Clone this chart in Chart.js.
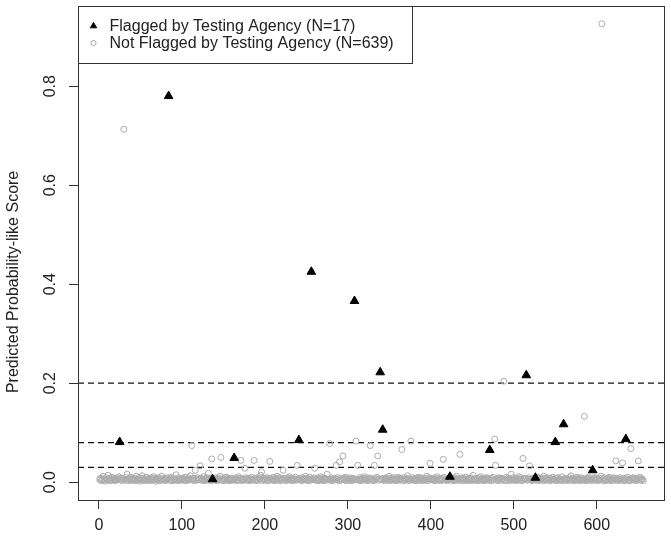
<!DOCTYPE html>
<html><head><meta charset="utf-8">
<script src="https://cdn.jsdelivr.net/npm/chart.js@4.4.1/dist/chart.umd.min.js"></script>
<style>html,body{margin:0;padding:0;background:#fff}</style>
</head><body>
<canvas id="c" width="671" height="540"></canvas>
<script>
// ---- data ----
const flaggedIndex = [25, 84, 137, 163, 241, 256, 308, 339, 342, 423, 471, 515, 526, 550, 560, 595, 635];
const flaggedScore = [0.081, 0.78, 0.006, 0.049, 0.085, 0.425, 0.366, 0.222, 0.106, 0.011, 0.065, 0.216, 0.009, 0.081, 0.117, 0.024, 0.087];

// not-flagged scores in thousandths, one entry per case index 1..656 (null = flagged case)
const notFlaggedMilli = [
  5,8,3,6,12,4,7,2,9,5,14,6,3,8,4,10,5,7,3,6,
  4,9,6,11,null,5,8,3,7,713,6,4,9,16,5,3,7,10,4,6,
  8,5,3,7,12,4,6,9,2,5,8,13,4,7,3,6,10,5,4,8,
  3,6,9,4,7,11,5,2,8,6,4,9,3,7,5,12,6,4,8,3,
  7,5,9,null,4,6,10,3,8,5,7,4,15,6,3,9,5,7,4,6,
  8,4,6,10,3,7,5,9,4,13,6,74,5,8,3,24,7,4,9,6,
  5,33,8,4,6,11,3,7,5,9,4,18,6,8,3,47,null,5,7,4,
  9,6,3,8,5,12,50,4,7,6,3,9,5,10,4,7,6,3,8,5,
  7,4,null,6,9,3,5,11,4,8,44,6,3,7,5,28,9,4,6,8,
  3,7,5,10,4,6,44,8,3,5,9,4,7,6,14,21,3,8,5,7,
  4,9,6,3,8,42,5,7,4,10,6,3,8,5,12,4,7,9,3,6,
  5,24,8,4,7,3,9,6,5,11,4,8,6,3,7,5,10,4,34,6,
  null,8,5,3,9,6,4,7,12,5,8,3,6,10,4,null,7,5,9,28,
  4,6,8,3,7,5,11,4,9,6,3,8,5,7,16,4,6,78,5,9,
  3,7,4,8,6,34,5,9,3,41,7,4,6,53,8,5,10,3,7,4,
  6,9,5,3,8,4,7,null,6,83,5,34,4,9,6,3,8,5,11,7,
  4,6,9,3,5,8,74,7,4,6,3,34,8,5,10,53,4,7,null,6,
  5,null,8,3,6,9,4,7,5,12,3,8,6,4,9,5,7,3,6,10,
  4,8,5,7,66,3,9,6,4,8,5,13,7,3,6,83,5,9,4,7,
  6,3,8,5,10,4,7,9,3,6,5,8,4,7,12,3,6,9,38,5,
  7,4,8,6,3,9,5,11,4,7,6,3,8,5,46,10,4,7,6,3,
  8,5,null,7,4,9,6,3,8,5,12,4,7,6,56,3,9,5,8,4,
  6,10,3,7,5,8,4,9,6,3,14,5,7,4,8,6,3,9,5,11,
  4,7,6,3,8,5,9,4,7,6,null,3,8,5,10,4,87,34,6,7,
  3,9,5,8,4,6,7,204,3,5,10,4,8,6,3,7,16,5,9,4,
  6,8,3,7,5,11,4,9,6,3,48,7,5,8,null,4,6,9,33,5,
  7,3,8,5,6,null,4,10,7,3,9,5,6,8,4,12,3,7,5,9,
  6,4,8,3,7,5,10,6,4,null,8,3,9,5,7,4,6,11,3,null,
  5,8,4,7,6,3,9,5,13,4,8,6,3,7,5,10,4,8,6,3,
  9,5,7,4,133,6,3,8,5,10,4,7,6,3,null,8,5,9,4,7,
  6,3,8,5,12,926,4,7,9,3,6,5,8,4,10,7,3,6,5,9,
  4,8,43,6,3,7,5,9,4,6,39,8,3,5,null,7,10,4,6,3,
  68,8,5,9,4,7,6,3,8,43,5,10,4,7,6,3
];

const thresholds = [0.2, 0.08, 0.03];
const xTicks = [0, 100, 200, 300, 400, 500, 600];
const yTicks = [0.0, 0.2, 0.4, 0.6, 0.8];
const seriesLabels = ['Flagged by Testing Agency (N=17)', 'Not Flagged by Testing Agency (N=639)'];
const yTitle = 'Predicted Probability-like Score';

// ---- chart ----
const X_MIN = -25.2, X_MAX = 682.2, Y_MIN = -0.036, Y_MAX = 0.962;
const FONT = '"Liberation Sans", Arial, sans-serif';
const FS = 16;
const TXT = '#222';

const flaggedPts = flaggedIndex.map((x, i) => ({x, y: flaggedScore[i]}));
const notFlaggedPts = [];
notFlaggedMilli.forEach((v, i) => { if (v !== null) notFlaggedPts.push({x: i + 1, y: v / 1000}); });

const lineSets = thresholds.map(t => ({
  label: 'threshold ' + t,
  data: [{x: X_MIN, y: t}, {x: X_MAX, y: t}],
  showLine: true, pointRadius: 0, borderColor: '#111', borderWidth: 1.2,
  borderDash: [6, 4], backgroundColor: 'transparent'
}));

const framePlugin = {
  id: 'frame',
  afterDraw(chart) {
    const {ctx, chartArea: a} = chart;
    ctx.save();
    ctx.strokeStyle = '#333'; ctx.lineWidth = 1;
    ctx.strokeRect(Math.round(a.left) + 0.5, Math.round(a.top) + 0.5, Math.round(a.right - a.left) - 1, Math.round(a.bottom - a.top));
    ctx.restore();
  }
};

const legendPlugin = {
  id: 'boxLegend',
  afterDraw(chart) {
    const {ctx, chartArea: a} = chart;
    const ds = chart.data.datasets;
    ctx.save();
    const x0 = Math.round(a.left) + 0.5, y0 = Math.round(a.top) + 0.5, w = 334, h = 57;
    ctx.fillStyle = '#fff'; ctx.fillRect(x0, y0, w, h);
    ctx.strokeStyle = '#333'; ctx.lineWidth = 1; ctx.strokeRect(x0, y0, w, h);
    ctx.font = FS + 'px ' + FONT; ctx.textBaseline = 'middle'; ctx.textAlign = 'left';
    const rows = [y0 + 19.5, y0 + 36.5];
    [0, 1].forEach(k => {
      const d = ds[k];
      ctx.fillStyle = d.backgroundColor;
      ctx.strokeStyle = d.borderColor;
      ctx.lineWidth = 1;
      Chart.helpers.drawPoint(ctx, {pointStyle: d.pointStyle, radius: k === 0 ? 3.6 : 2.6, borderWidth: 1}, x0 + 15, rows[k]);
      ctx.fillStyle = TXT;
      ctx.fillText(d.label, x0 + 31, rows[k] + 1);
    });
    ctx.restore();
  }
};

new Chart(document.getElementById('c'), {
  type: 'scatter',
  data: {
    datasets: [
      {label: seriesLabels[0], data: flaggedPts, pointStyle: 'triangle', pointRadius: 5,
       backgroundColor: '#000', borderColor: '#000', borderWidth: 1},
      {label: seriesLabels[1], data: notFlaggedPts, pointStyle: 'circle', pointRadius: 3,
       backgroundColor: 'rgba(0,0,0,0)', borderColor: '#ababab', borderWidth: 1},
      ...lineSets
    ]
  },
  options: {
    responsive: false, animation: false, devicePixelRatio: 1,
    layout: {padding: {top: 5, right: 5, left: 0, bottom: 0}},
    plugins: {legend: {display: false}, tooltip: {enabled: false}},
    scales: {
      x: {
        type: 'linear', min: X_MIN, max: X_MAX,
        afterBuildTicks: s => { s.ticks = xTicks.map(v => ({value: v})); },
        afterFit: s => { s.height = 40; s.paddingLeft = 0; s.paddingRight = 0; },
        grid: {drawOnChartArea: false, drawTicks: true, tickLength: 9, color: '#333'},
        border: {display: false},
        ticks: {font: {family: FONT, size: FS}, color: TXT, padding: 7, maxRotation: 0, callback: v => String(v)}
      },
      y: {
        type: 'linear', min: Y_MIN, max: Y_MAX,
        afterBuildTicks: s => { s.ticks = yTicks.map(v => ({value: v})); },
        afterFit: s => { s.width = 78; s.paddingTop = 0; s.paddingBottom = 0; },
        grid: {drawOnChartArea: false, drawTicks: true, tickLength: 9, color: '#333'},
        border: {display: false},
        ticks: {font: {family: FONT, size: FS}, color: TXT, padding: 7, minRotation: 90, maxRotation: 90,
                crossAlign: 'center', callback: v => Number(v).toFixed(1)},
        title: {display: true, text: yTitle + '             ', font: {family: FONT, size: FS}, color: TXT,
                padding: {top: 4, bottom: 0}}
      }
    }
  },
  plugins: [framePlugin, legendPlugin]
});
</script>
</body></html>
